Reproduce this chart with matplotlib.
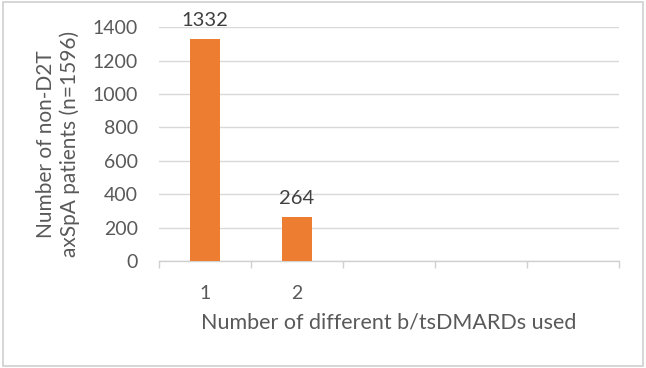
import numpy as np
import matplotlib.pyplot as plt
from matplotlib.patches import Rectangle

categories = ["1", "2", "", "", ""]
counts = [1332, 264, 0, 0, 0]
labels = ["1332", "264"]

plt.rcParams['font.family'] = ['Lato', 'DejaVu Sans']

fig = plt.figure(figsize=(6.46, 3.68), dpi=100)
fig.patches.append(Rectangle((0.004, 0.006), 0.992, 0.988, transform=fig.transFigure,
                             fill=False, edgecolor='#d0d0d0', linewidth=1.2))
ax = fig.add_axes([0.2461, 0.2908, 0.7121, 0.635])

x = np.arange(len(categories))
bars = ax.bar(x[:len(labels)], counts[:len(labels)], width=0.32, color='#ED7D31', zorder=3)
for b, lab in zip(bars, labels):
    ax.annotate(lab, (b.get_x() + b.get_width() / 2, b.get_height()),
                xytext=(0, 7), textcoords='offset points',
                ha='center', va='bottom', fontsize=14.5, color='#404040')

ax.set_xlim(-0.5, len(categories) - 0.5)
ax.set_ylim(0, 1400)
ax.set_yticks(np.arange(0, 1401, 200))
ax.set_xticks(x)
ax.set_xticklabels(categories)
ax.set_xticks(np.arange(-0.5, len(categories), 1), minor=True)
ax.tick_params(axis='x', which='major', length=0, pad=17, labelsize=14, labelcolor='#595959')
ax.tick_params(axis='x', which='minor', length=5, color='#d0d0d0', width=1)
ax.tick_params(axis='y', length=0, pad=15, labelsize=14, labelcolor='#595959')
ax.grid(axis='y', color='#d9d9d9', linewidth=1, zorder=0)

for s in ['top', 'right', 'left']:
    ax.spines[s].set_visible(False)
ax.spines['bottom'].set_color('#d0d0d0')
ax.spines['bottom'].set_linewidth(1)

ax.set_xlabel("Number of different b/tsDMARDs used", fontsize=15.5, color='#595959', labelpad=8)
ax.set_ylabel("Number of non-D2T\naxSpA patients (n=1596)", fontsize=15, color='#595959',
              labelpad=9, linespacing=1.25)

fig.savefig("out.png", dpi=100)
